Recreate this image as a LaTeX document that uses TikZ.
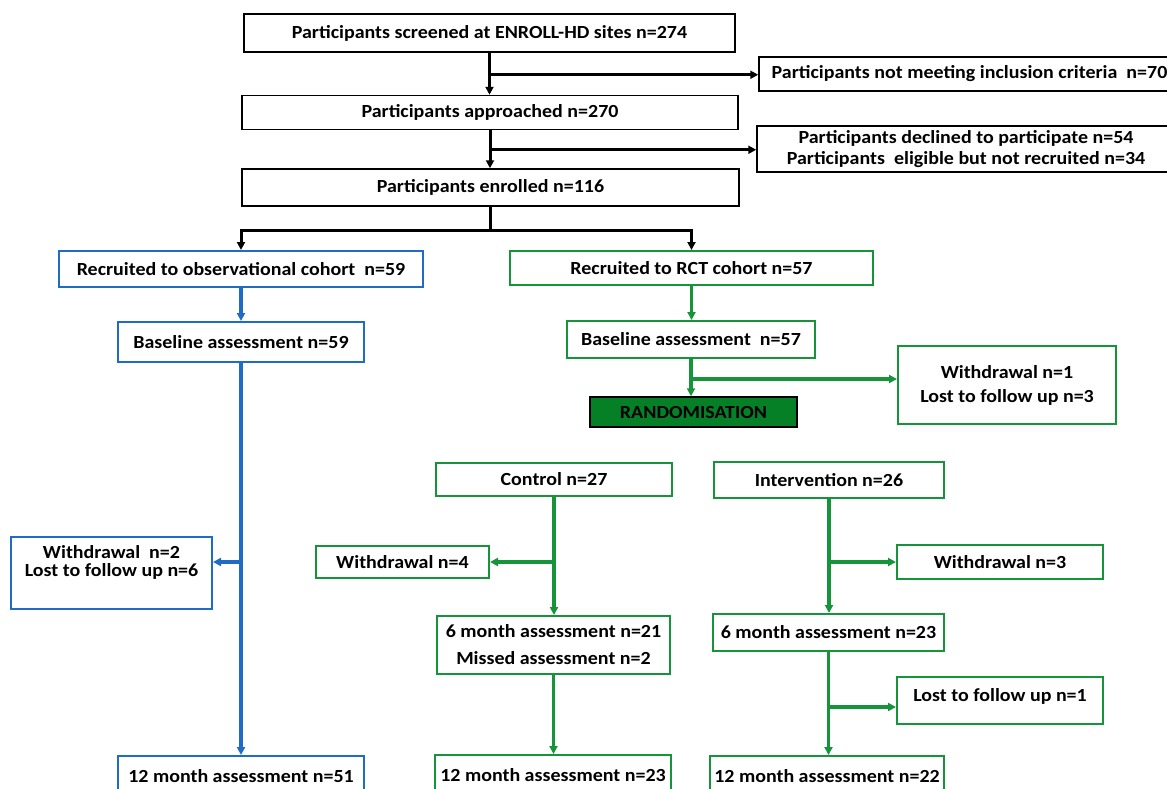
\documentclass[tikz,border=0pt]{standalone}
\usepackage{fontspec}
\setmainfont{Carlito}[FakeStretch=1.08]
\usetikzlibrary{arrows.meta,calc}
\definecolor{obsblue}{RGB}{30,108,196}
\definecolor{rctgreen}{RGB}{22,148,58}
\definecolor{randfill}{RGB}{5,128,38}
\begin{document}
\begin{tikzpicture}[x=1pt,y=-1pt,
  font=\fontsize{18.5}{21}\selectfont\bfseries,
  box/.style={draw, inner sep=0pt, align=center, line width=1.5pt},
  kbox/.style={box, draw=black},
  bbox/.style={box, draw=obsblue, line width=2pt},
  gbox/.style={box, draw=rctgreen, line width=2pt},
  tip/.style={-{Triangle[length=8pt,width=8pt]}},
  kline/.style={draw=black, line width=3pt},
  karr/.style={kline, tip},
  bline/.style={draw=obsblue, line width=3.3pt},
  barr/.style={bline, tip},
  gline/.style={draw=rctgreen, line width=3.3pt},
  garr/.style={gline, tip},
  lbl/.style={anchor=north, align=center, inner sep=0pt, font=\fontsize{18.5}{18}\selectfont\bfseries}
]
\useasboundingbox (0,0) rectangle (1167,788);
\fill[white] (0,0) rectangle (1167,788);

% black part
\node[kbox, minimum width=491pt, minimum height=38pt] (scr) at (489.5,33) {Participants screened at ENROLL-HD sites n=274};
\node[kbox, minimum width=421pt, minimum height=34pt] (nm) at (969.5,74) {Participants not meeting inclusion criteria~~n=70};
\node[kbox, minimum width=496pt, minimum height=34pt] (apr) at (490,112.5) {Participants approached n=270};
\node[kbox, minimum width=418pt, minimum height=46pt] (dec) at (966,149) {Participants declined to participate n=54\\Participants~~eligible but not recruited n=34};
\node[kbox, minimum width=497pt, minimum height=37pt] (enr) at (490.5,187.5) {Participants enrolled n=116};

% observational (blue)
\node[bbox, minimum width=364pt, minimum height=36pt] (obs) at (241,269) {Recruited to observational cohort~~n=59};
\node[bbox, minimum width=246pt, minimum height=40pt] (bobs) at (241,342) {Baseline assessment n=59};
\node[bbox, minimum width=201pt, minimum height=72pt,
  label={[lbl, yshift=-9pt]north:{Withdrawal~~n=2\\Lost to follow up n=6}}] (wobs) at (111.5,573) {};
\node[bbox, minimum width=246pt, minimum height=40pt] (m12obs) at (241,776) {12 month assessment n=51};

% RCT (green)
\node[gbox, minimum width=363pt, minimum height=34pt] (rct) at (691.5,268) {Recruited to RCT cohort n=57};
\node[gbox, minimum width=248pt, minimum height=37pt] (brct) at (691,339.5) {Baseline assessment~~n=57};
\node[box, draw=black, fill=randfill, minimum width=207pt, minimum height=30pt] (rand) at (693.5,412) {RANDOMISATION};
\node[gbox, minimum width=218pt, minimum height=78pt] (wd1) at (1007,385) {Withdrawal n=1\\[3pt]Lost to follow up n=3};

\node[gbox, minimum width=236pt, minimum height=33pt] (ctl) at (554,479.5) {Control n=27};
\node[gbox, minimum width=230pt, minimum height=36pt] (int) at (829,480) {Intervention n=26};
\node[gbox, minimum width=173pt, minimum height=32pt] (wd4) at (402.5,562) {Withdrawal n=4};
\node[gbox, minimum width=206pt, minimum height=34pt] (wd3) at (1000,562) {Withdrawal n=3};
\node[gbox, minimum width=233pt, minimum height=58pt] (cs) at (553.5,645) {6 month assessment n=21\\[6pt]Missed assessment n=2};
\node[gbox, minimum width=231pt, minimum height=37pt] (is) at (828.5,632.5) {6 month assessment n=23};
\node[gbox, minimum width=206pt, minimum height=47pt,
  label={[lbl, yshift=-12pt]north:{Lost to follow up n=1}}] (lf1) at (1000,700.5) {};
\node[gbox, minimum width=236pt, minimum height=40pt] (ct) at (553,775) {12 month assessment n=23};
\node[gbox, minimum width=234pt, minimum height=40pt] (it) at (827,776) {12 month assessment n=22};

% black connectors
\draw[karr] (scr.south) -- (scr.south |- apr.north);
\path (scr.south) ++(0,22) coordinate (s1);
\draw[karr] (s1) -- (s1 -| nm.west);
\draw[karr] (apr.south) -- (apr.south |- enr.north);
\path (apr.south) ++(0,19.5) coordinate (s2);
\draw[karr] (s2) -- (s2 -| dec.west);
\draw[kline] (enr.south) -- ++(0,24) coordinate (s3);
\draw[karr] (s3) -| (obs.north);
\draw[karr] (s3) -| (rct.north);

% blue connectors
\draw[barr] (obs.south) -- (obs.south |- bobs.north);
\draw[barr] (bobs.south) -- (bobs.south |- m12obs.north);
\path (bobs.south |- 0,562) coordinate (s4);
\draw[barr] (s4) -- (s4 -| wobs.east);

% green connectors
\draw[garr] (rct.south) -- (rct.south |- brct.north);
\draw[garr] (brct.south) -- (brct.south |- rand.north);
\path (brct.south |- 0,379) coordinate (s5);
\draw[garr] (s5) -- (s5 -| wd1.west);
\draw[garr] (ctl.south) -- (ctl.south |- cs.north);
\path (ctl.south |- 0,562) coordinate (s6);
\draw[garr] (s6) -- (s6 -| wd4.east);
\draw[garr] (cs.south) -- (cs.south |- ct.north);
\draw[garr] (int.south) -- (int.south |- is.north);
\path (int.south |- 0,562) coordinate (s7);
\draw[garr] (s7) -- (s7 -| wd3.west);
\draw[garr] (is.south) -- (is.south |- it.north);
\path (is.south |- 0,707) coordinate (s8);
\draw[garr] (s8) -- (s8 -| lf1.west);
\end{tikzpicture}
\end{document}
